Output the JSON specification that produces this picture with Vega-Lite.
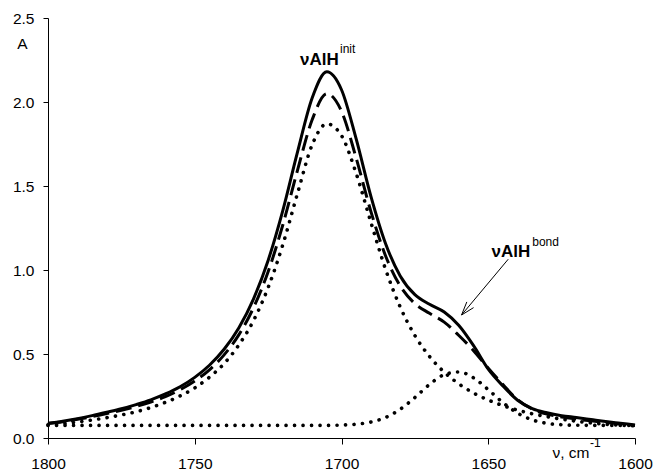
{
  "$schema": "https://vega.github.io/schema/vega-lite/v6.json",
  "width": 587,
  "height": 420,
  "autosize": {"type": "none"},
  "padding": {"left": 48, "top": 18, "right": 21, "bottom": 34},
  "background": "white",
  "config": {
    "view": {"stroke": null},
    "font": "Liberation Sans",
    "axis": {
      "grid": false,
      "domainColor": "black",
      "tickColor": "black",
      "labelColor": "black",
      "titleColor": "black",
      "labelFont": "Liberation Sans",
      "titleFont": "Liberation Sans",
      "labelFontSize": 15.5,
      "titleFontSize": 15.5,
      "titleFontWeight": "normal",
      "domainWidth": 1,
      "tickWidth": 1
    }
  },
  "datasets": {
    "solid": [
      {"wn": 1800, "A": 0.088}, {"wn": 1795, "A": 0.100}, {"wn": 1790, "A": 0.115}, {"wn": 1785, "A": 0.133},
      {"wn": 1780, "A": 0.153}, {"wn": 1775, "A": 0.174}, {"wn": 1770, "A": 0.199}, {"wn": 1765, "A": 0.227},
      {"wn": 1760, "A": 0.262}, {"wn": 1755, "A": 0.305}, {"wn": 1750, "A": 0.361}, {"wn": 1745, "A": 0.433},
      {"wn": 1740, "A": 0.528}, {"wn": 1735, "A": 0.655}, {"wn": 1730, "A": 0.827}, {"wn": 1725, "A": 1.057},
      {"wn": 1720, "A": 1.354}, {"wn": 1715, "A": 1.702}, {"wn": 1710, "A": 2.024}, {"wn": 1705, "A": 2.180},
      {"wn": 1700, "A": 2.073}, {"wn": 1695, "A": 1.780}, {"wn": 1690, "A": 1.440}, {"wn": 1685, "A": 1.158},
      {"wn": 1680, "A": 0.965}, {"wn": 1675, "A": 0.853}, {"wn": 1670, "A": 0.796}, {"wn": 1665, "A": 0.750},
      {"wn": 1660, "A": 0.670}, {"wn": 1655, "A": 0.550}, {"wn": 1650, "A": 0.410}, {"wn": 1645, "A": 0.310},
      {"wn": 1640, "A": 0.225}, {"wn": 1635, "A": 0.175}, {"wn": 1630, "A": 0.150}, {"wn": 1625, "A": 0.133},
      {"wn": 1620, "A": 0.122}, {"wn": 1615, "A": 0.110}, {"wn": 1610, "A": 0.098}, {"wn": 1605, "A": 0.088},
      {"wn": 1600, "A": 0.078}
    ],
    "dashed": [
      {"wn": 1800, "A": 0.086}, {"wn": 1795, "A": 0.097}, {"wn": 1790, "A": 0.111}, {"wn": 1785, "A": 0.127},
      {"wn": 1780, "A": 0.145}, {"wn": 1775, "A": 0.165}, {"wn": 1770, "A": 0.188}, {"wn": 1765, "A": 0.214},
      {"wn": 1760, "A": 0.246}, {"wn": 1755, "A": 0.287}, {"wn": 1750, "A": 0.339}, {"wn": 1745, "A": 0.406},
      {"wn": 1740, "A": 0.495}, {"wn": 1735, "A": 0.614}, {"wn": 1730, "A": 0.775}, {"wn": 1725, "A": 0.990},
      {"wn": 1720, "A": 1.268}, {"wn": 1715, "A": 1.593}, {"wn": 1710, "A": 1.894}, {"wn": 1705, "A": 2.050},
      {"wn": 1700, "A": 1.945}, {"wn": 1695, "A": 1.666}, {"wn": 1690, "A": 1.349}, {"wn": 1685, "A": 1.085},
      {"wn": 1680, "A": 0.905}, {"wn": 1675, "A": 0.800}, {"wn": 1670, "A": 0.742}, {"wn": 1665, "A": 0.690},
      {"wn": 1660, "A": 0.610}, {"wn": 1655, "A": 0.520}, {"wn": 1650, "A": 0.415}, {"wn": 1645, "A": 0.318},
      {"wn": 1640, "A": 0.228}, {"wn": 1635, "A": 0.172}, {"wn": 1630, "A": 0.142}, {"wn": 1625, "A": 0.125},
      {"wn": 1620, "A": 0.113}, {"wn": 1615, "A": 0.102}, {"wn": 1610, "A": 0.092}, {"wn": 1605, "A": 0.083},
      {"wn": 1600, "A": 0.075}
    ],
    "dotted": [
      {"band": "init", "wn": 1800, "A": 0.078}, {"band": "init", "wn": 1795, "A": 0.086}, {"band": "init", "wn": 1790, "A": 0.095},
      {"band": "init", "wn": 1785, "A": 0.107}, {"band": "init", "wn": 1780, "A": 0.121}, {"band": "init", "wn": 1775, "A": 0.137},
      {"band": "init", "wn": 1770, "A": 0.156}, {"band": "init", "wn": 1765, "A": 0.181}, {"band": "init", "wn": 1760, "A": 0.212},
      {"band": "init", "wn": 1755, "A": 0.250}, {"band": "init", "wn": 1750, "A": 0.298}, {"band": "init", "wn": 1745, "A": 0.362},
      {"band": "init", "wn": 1740, "A": 0.443}, {"band": "init", "wn": 1735, "A": 0.553}, {"band": "init", "wn": 1730, "A": 0.698},
      {"band": "init", "wn": 1725, "A": 0.895}, {"band": "init", "wn": 1720, "A": 1.150}, {"band": "init", "wn": 1715, "A": 1.455},
      {"band": "init", "wn": 1710, "A": 1.745}, {"band": "init", "wn": 1705, "A": 1.870}, {"band": "init", "wn": 1700, "A": 1.800},
      {"band": "init", "wn": 1695, "A": 1.575}, {"band": "init", "wn": 1690, "A": 1.285}, {"band": "init", "wn": 1685, "A": 1.005},
      {"band": "init", "wn": 1680, "A": 0.780}, {"band": "init", "wn": 1675, "A": 0.610}, {"band": "init", "wn": 1670, "A": 0.485},
      {"band": "init", "wn": 1665, "A": 0.392}, {"band": "init", "wn": 1660, "A": 0.322}, {"band": "init", "wn": 1655, "A": 0.268},
      {"band": "init", "wn": 1650, "A": 0.226}, {"band": "init", "wn": 1645, "A": 0.193}, {"band": "init", "wn": 1640, "A": 0.166},
      {"band": "init", "wn": 1635, "A": 0.144}, {"band": "init", "wn": 1630, "A": 0.127}, {"band": "init", "wn": 1625, "A": 0.112},
      {"band": "init", "wn": 1620, "A": 0.100}, {"band": "init", "wn": 1615, "A": 0.090}, {"band": "init", "wn": 1610, "A": 0.082},
      {"band": "init", "wn": 1605, "A": 0.076}, {"band": "init", "wn": 1600, "A": 0.072},
      {"band": "bond", "wn": 1800, "A": 0.075}, {"band": "bond", "wn": 1790, "A": 0.075}, {"band": "bond", "wn": 1780, "A": 0.075},
      {"band": "bond", "wn": 1770, "A": 0.075}, {"band": "bond", "wn": 1760, "A": 0.075}, {"band": "bond", "wn": 1750, "A": 0.075},
      {"band": "bond", "wn": 1740, "A": 0.075}, {"band": "bond", "wn": 1730, "A": 0.075}, {"band": "bond", "wn": 1720, "A": 0.075},
      {"band": "bond", "wn": 1710, "A": 0.075}, {"band": "bond", "wn": 1705, "A": 0.075}, {"band": "bond", "wn": 1700, "A": 0.077},
      {"band": "bond", "wn": 1695, "A": 0.082}, {"band": "bond", "wn": 1690, "A": 0.095}, {"band": "bond", "wn": 1685, "A": 0.122},
      {"band": "bond", "wn": 1680, "A": 0.171}, {"band": "bond", "wn": 1675, "A": 0.241}, {"band": "bond", "wn": 1670, "A": 0.319},
      {"band": "bond", "wn": 1665, "A": 0.377}, {"band": "bond", "wn": 1660, "A": 0.393}, {"band": "bond", "wn": 1655, "A": 0.358},
      {"band": "bond", "wn": 1650, "A": 0.288}, {"band": "bond", "wn": 1645, "A": 0.211}, {"band": "bond", "wn": 1640, "A": 0.148},
      {"band": "bond", "wn": 1635, "A": 0.108}, {"band": "bond", "wn": 1630, "A": 0.087}, {"band": "bond", "wn": 1625, "A": 0.079},
      {"band": "bond", "wn": 1620, "A": 0.076}, {"band": "bond", "wn": 1610, "A": 0.075}, {"band": "bond", "wn": 1600, "A": 0.075}
    ],
    "labels": [
      {"text": "νAlH", "wn": 1714.1, "A": 2.22},
      {"text": "νAlH", "wn": 1648.9, "A": 1.077}
    ],
    "sups": [
      {"text": "init", "wn": 1700.5, "A": 2.29},
      {"text": "bond", "wn": 1635.0, "A": 1.143},
      {"text": "-1", "wn": 1615.3, "A": -0.054}
    ],
    "arrow": [
      {"wn": 1643.2, "A": 1.064, "wn2": 1659.1, "A2": 0.732},
      {"wn": 1659.1, "A": 0.732, "wn2": 1655.0, "A2": 0.776},
      {"wn": 1659.1, "A": 0.732, "wn2": 1657.3, "A2": 0.810}
    ]
  },
  "encoding": {
    "x": {
      "field": "wn", "type": "quantitative",
      "scale": {"domain": [1600, 1800], "reverse": true, "nice": false, "zero": false},
      "axis": {
        "values": [1600, 1650, 1700, 1750, 1800], "format": "d", "tickSize": 6, "labelPadding": 12,
        "labelFlush": false, "title": "ν, cm", "titleX": 504, "titleY": 19, "titleAlign": "left",
        "titleBaseline": "alphabetic"
      }
    },
    "y": {
      "field": "A", "type": "quantitative",
      "scale": {"domain": [0, 2.5], "nice": false},
      "axis": {
        "values": [0, 0.5, 1, 1.5, 2, 2.5], "format": ".1f", "tickSize": 5, "labelPadding": 9,
        "labelFlush": false, "title": "A", "titleAngle": 0, "titleX": -26, "titleY": 30,
        "titleAlign": "center", "titleBaseline": "alphabetic"
      }
    }
  },
  "layer": [
    {
      "data": {"name": "dotted"},
      "mark": {"type": "line", "interpolate": "monotone", "color": "black", "strokeWidth": 3.6, "strokeDash": [0.1, 8.4], "strokeCap": "round"},
      "encoding": {"detail": {"field": "band"}}
    },
    {
      "data": {"name": "dashed"},
      "mark": {"type": "line", "interpolate": "monotone", "color": "black", "strokeWidth": 3, "strokeDash": [16, 7]},
      "encoding": {}
    },
    {
      "data": {"name": "solid"},
      "mark": {"type": "line", "interpolate": "monotone", "color": "black", "strokeWidth": 3},
      "encoding": {}
    },
    {
      "data": {"name": "arrow"},
      "mark": {"type": "rule", "color": "black", "strokeWidth": 1},
      "encoding": {
        "x2": {"field": "wn2"},
        "y2": {"field": "A2"}
      }
    },
    {
      "data": {"name": "labels"},
      "mark": {"type": "text", "font": "Liberation Sans", "fontSize": 17, "fontWeight": "bold", "align": "left", "baseline": "alphabetic", "color": "black"},
      "encoding": {"text": {"field": "text"}}
    },
    {
      "data": {"name": "sups"},
      "mark": {"type": "text", "font": "Liberation Sans", "fontSize": 12, "align": "left", "baseline": "alphabetic", "color": "black"},
      "encoding": {"text": {"field": "text"}}
    }
  ]
}
